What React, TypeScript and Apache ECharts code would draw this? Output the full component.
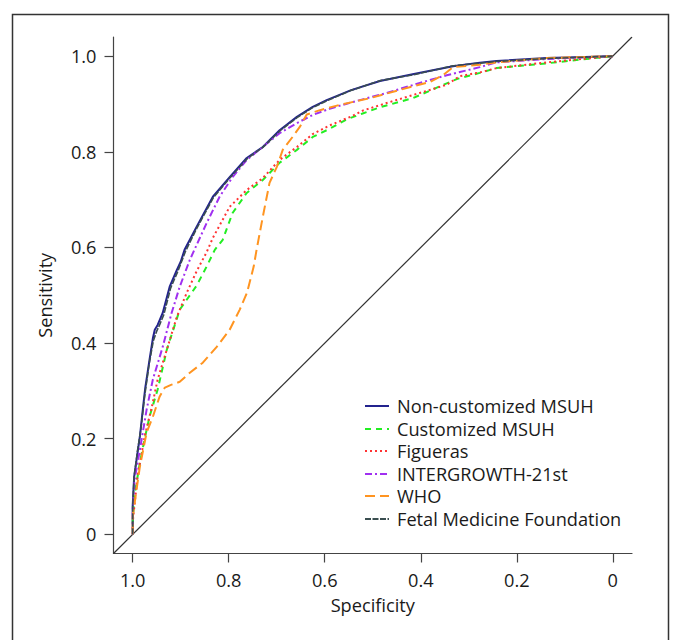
import React, { useEffect, useRef } from "react";
import * as echarts from "echarts";

// [specificity, sensitivity] pairs
const nonCustomizedMSUH: number[][] = [
  [1.0, 0.0], [1.0, 0.06], [0.997, 0.12], [0.99, 0.17], [0.985, 0.205], [0.978, 0.27],
  [0.974, 0.305], [0.965, 0.365], [0.958, 0.41], [0.954, 0.428], [0.948, 0.438],
  [0.9375, 0.463], [0.923, 0.518], [0.908, 0.553], [0.9, 0.57], [0.892, 0.595],
  [0.867, 0.643], [0.833, 0.706], [0.798, 0.747], [0.7625, 0.787], [0.729, 0.81],
  [0.694, 0.845], [0.658, 0.873], [0.625, 0.894], [0.596, 0.908], [0.545, 0.929],
  [0.485, 0.948], [0.417, 0.962], [0.333, 0.979], [0.277, 0.986], [0.242, 0.99],
  [0.1375, 0.996], [0.0, 1.0],
];
const customizedMSUH: number[][] = [
  [1.0, 0.0], [1.0, 0.03], [0.995, 0.09], [0.985, 0.15], [0.975, 0.2], [0.965, 0.246],
  [0.948, 0.303], [0.929, 0.386], [0.902, 0.47], [0.881, 0.5], [0.867, 0.52],
  [0.846, 0.56], [0.829, 0.595], [0.8125, 0.616], [0.792, 0.672], [0.7625, 0.714],
  [0.729, 0.741], [0.694, 0.777], [0.658, 0.804], [0.625, 0.831], [0.59, 0.848],
  [0.554, 0.868], [0.521, 0.88], [0.485, 0.893], [0.417, 0.912], [0.36, 0.937],
  [0.325, 0.952], [0.277, 0.965], [0.242, 0.975], [0.1375, 0.985], [0.0, 1.0],
];
const figueras: number[][] = [
  [1.0, 0.0], [1.0, 0.025], [0.99, 0.121], [0.975, 0.205], [0.96, 0.267], [0.948, 0.324],
  [0.929, 0.386], [0.908, 0.455], [0.8875, 0.505], [0.867, 0.55], [0.846, 0.59],
  [0.833, 0.62], [0.798, 0.685], [0.7625, 0.72], [0.729, 0.745], [0.694, 0.783],
  [0.658, 0.81], [0.625, 0.837], [0.59, 0.855], [0.542, 0.875], [0.521, 0.886],
  [0.471, 0.902], [0.402, 0.923], [0.346, 0.94], [0.319, 0.958], [0.277, 0.966],
  [0.242, 0.975], [0.1375, 0.987], [0.0, 1.0],
];
const intergrowth21st: number[][] = [
  [1.0, 0.0], [1.0, 0.05], [0.996, 0.115], [0.985, 0.177], [0.971, 0.261], [0.958, 0.324],
  [0.9375, 0.392], [0.919, 0.463], [0.902, 0.518], [0.881, 0.574], [0.846, 0.651],
  [0.819, 0.706], [0.792, 0.747], [0.7625, 0.783], [0.729, 0.81], [0.694, 0.839],
  [0.658, 0.86], [0.625, 0.877], [0.59, 0.89], [0.542, 0.904], [0.471, 0.923],
  [0.402, 0.944], [0.346, 0.96], [0.277, 0.977], [0.242, 0.987], [0.1375, 0.994],
  [0.0, 1.0],
];
const who: number[][] = [
  [1.0, 0.0], [1.0, 0.038], [0.985, 0.142], [0.971, 0.213], [0.958, 0.246], [0.944, 0.288],
  [0.933, 0.307], [0.919, 0.313], [0.902, 0.319], [0.881, 0.338], [0.854, 0.359],
  [0.825, 0.392], [0.798, 0.428], [0.777, 0.47], [0.762, 0.505], [0.748, 0.56],
  [0.742, 0.595], [0.729, 0.664], [0.715, 0.735], [0.7, 0.768], [0.6875, 0.804],
  [0.667, 0.831], [0.652, 0.852], [0.6375, 0.878], [0.61, 0.887], [0.569, 0.898],
  [0.506, 0.912], [0.4375, 0.931], [0.381, 0.946], [0.354, 0.96], [0.333, 0.977],
  [0.277, 0.982], [0.242, 0.987], [0.1375, 0.996], [0.0, 1.0],
];
const fetalMedicineFoundation: number[][] = [
  [1.0, 0.0], [1.0, 0.06], [0.997, 0.12], [0.99, 0.175], [0.983, 0.22], [0.975, 0.29],
  [0.966, 0.355], [0.957, 0.405], [0.95, 0.425], [0.944, 0.438], [0.935, 0.46],
  [0.921, 0.515], [0.906, 0.55], [0.89, 0.592], [0.866, 0.641], [0.832, 0.704],
  [0.797, 0.746], [0.761, 0.786], [0.728, 0.81], [0.693, 0.844], [0.657, 0.872],
  [0.624, 0.893], [0.595, 0.907], [0.546, 0.928], [0.484, 0.949], [0.415, 0.961],
  [0.332, 0.98], [0.24, 0.989], [0.136, 0.995], [0.0, 1.0],
];
const referenceLine: number[][] = [[1.04, -0.04], [-0.04, 1.04]];

const seriesNames = [
  "Non-customized MSUH",
  "Customized MSUH",
  "Figueras",
  "INTERGROWTH-21st",
  "WHO",
  "Fetal Medicine Foundation",
];
const seriesColors = ["#23238e", "#22ee22", "#ff3333", "#a030f0", "#ff9420", "#3a4e50"];
const seriesDash: any[] = ["solid", [6, 5], [2, 3], [7, 3, 2, 3], [10, 5], [6, 1.5]];
const seriesWidth = [2, 2, 2, 2, 2, 1.6];
const tickValues = [0, 0.2, 0.4, 0.6, 0.8, 1.0];

const FONT = "'Open Sans', 'Noto Sans', sans-serif";
const AXIS_FONT = 18.2;
const LEGEND_FONT = 18.2;

export default function App() {
  const ref = useRef<HTMLDivElement>(null);
  useEffect(() => {
    if (!ref.current) return;
    const chart = echarts.init(ref.current, null, { renderer: "svg" });
    const fmt = (v: number) => (Math.abs(v) < 1e-9 ? "0" : v.toFixed(1));
    const datasets = [nonCustomizedMSUH, customizedMSUH, figueras, intergrowth21st, who, fetalMedicineFoundation];
    const series: any[] = [
      {
        name: "ref",
        type: "line",
        data: referenceLine,
        symbol: "none",
        lineStyle: { color: "#333", width: 1.2 },
        z: 1,
        silent: true,
      },
    ];
    datasets.forEach((d, i) => {
      series.push({
        name: seriesNames[i],
        type: "line",
        data: d,
        symbol: "none",
        lineStyle: { color: seriesColors[i], width: seriesWidth[i], type: seriesDash[i] },
        itemStyle: { color: seriesColors[i] },
        z: 3,
      });
    });
    const legendTop = 406;
    const legendStep = 22.6;
    const legendGraphics: any[] = [];
    seriesNames.forEach((n, i) => {
      const y = Math.round(legendTop + i * legendStep);
      const dash = seriesDash[i] === "solid" ? null : seriesDash[i];
      legendGraphics.push({
        type: "line",
        shape: { x1: 365, y1: y, x2: 389, y2: y },
        style: { stroke: seriesColors[i], lineWidth: 2, lineDash: dash },
        silent: true,
      });
      legendGraphics.push({
        type: "text",
        x: 397,
        y,
        style: {
          text: n,
          fontSize: LEGEND_FONT,
          lineHeight: 20,
          fontFamily: FONT,
          fill: "#1a1a1a",
          textVerticalAlign: "middle",
          textAlign: "left",
        },
        silent: true,
      });
    });
    chart.setOption({
      animation: false,
      textStyle: { fontFamily: FONT },
      grid: { left: 113.5, top: 37, width: 518.5, height: 516.5, containLabel: false },
      xAxis: {
        type: "value",
        inverse: true,
        min: -0.04,
        max: 1.04,
        name: "Specificity",
        nameLocation: "middle",
        nameGap: 42,
        nameTextStyle: { fontSize: AXIS_FONT, color: "#1a1a1a", fontFamily: FONT },
        axisLine: { show: true, onZero: false, lineStyle: { color: "#444", width: 1.2 } },
        axisTick: { show: true, length: 9, customValues: tickValues, lineStyle: { color: "#444", width: 1.2 } },
        axisLabel: { customValues: tickValues, formatter: fmt, fontSize: AXIS_FONT, color: "#1a1a1a", margin: 17, fontFamily: FONT },
        splitLine: { show: false },
      },
      yAxis: {
        type: "value",
        min: -0.04,
        max: 1.04,
        name: "Sensitivity",
        nameLocation: "middle",
        nameGap: 60,
        nameRotate: 90,
        nameTextStyle: { fontSize: AXIS_FONT, color: "#1a1a1a", fontFamily: FONT },
        axisLine: { show: true, onZero: false, lineStyle: { color: "#444", width: 1.2 } },
        axisTick: { show: true, length: 9, customValues: tickValues, lineStyle: { color: "#444", width: 1.2 } },
        axisLabel: { customValues: tickValues, formatter: fmt, fontSize: AXIS_FONT, color: "#1a1a1a", margin: 17, fontFamily: FONT },
        splitLine: { show: false },
      },
      graphic: [
        {
          type: "rect",
          left: 10,
          top: 12,
          shape: { x: 0, y: 0, width: 656, height: 640 },
          style: { fill: "none", stroke: "#333", lineWidth: 1.5 },
          silent: true,
        },
        ...legendGraphics,
      ],
      series,
    });
    return () => chart.dispose();
  }, []);
  return (
    <div
      ref={ref}
      style={{ position: "absolute", left: 0, top: 0, width: 677, height: 640, background: "#fff" }}
    />
  );
}
